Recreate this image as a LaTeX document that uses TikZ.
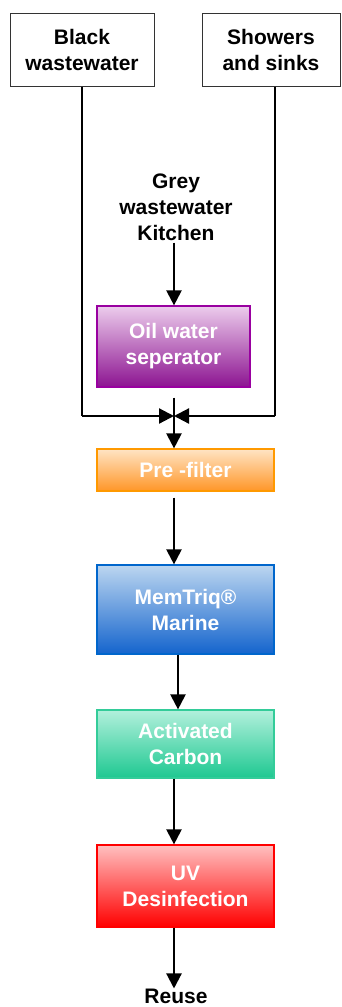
\documentclass[tikz,border=0pt]{standalone}
\usepackage{fontspec}
\setmainfont{Liberation Sans}
\usetikzlibrary{arrows.meta}
\begin{document}
\begin{tikzpicture}[x=1pt,y=-1pt,
  txt/.style={font=\fontsize{21}{26}\selectfont\bfseries,align=center,inner sep=0pt},
  srcbox/.style={txt,draw=black!80,line width=1pt,fill=white,inner sep=0pt},
  procbox/.style={txt,text=white,line width=1.2pt,inner sep=0pt},
  flow/.style={line width=2.2pt,-{Triangle[length=15pt,width=15pt]}},
  pipe/.style={line width=2.2pt}]
\useasboundingbox (0,0) rectangle (341,1007);
\node[srcbox,minimum width=144,minimum height=73] (black) at (82,49.5) {Black\\wastewater};
\node[srcbox,minimum width=138,minimum height=73] (shower) at (271,49.5) {Showers\\and sinks};
\node[txt] (grey) at (176,207) {Grey\\wastewater\\Kitchen};
\node[procbox,draw={rgb,255:red,153;green,0;blue,160},top color={rgb,255:red,236;green,204;blue,236},bottom color={rgb,255:red,140;green,20;blue,145},minimum width=153,minimum height=81] (oil) at (173.5,346.5) {Oil water\\seperator};
\node[procbox,draw={rgb,255:red,255;green,153;blue,0},top color={rgb,255:red,255;green,228;blue,196},bottom color={rgb,255:red,255;green,150;blue,40},minimum width=177,minimum height=42] (pre) at (185.5,470) {Pre -filter};
\node[procbox,draw={rgb,255:red,0;green,102;blue,204},top color={rgb,255:red,188;green,214;blue,240},bottom color={rgb,255:red,20;green,100;blue,205},minimum width=177,minimum height=89] (mem) at (185.5,609.5) {MemTriq®\\Marine};
\node[procbox,draw={rgb,255:red,51;green,204;blue,153},top color={rgb,255:red,178;green,240;blue,220},bottom color={rgb,255:red,30;green,200;blue,145},minimum width=177,minimum height=68] (ac) at (185.5,744) {Activated\\Carbon};
\node[procbox,draw={rgb,255:red,255;green,0;blue,0},top color={rgb,255:red,255;green,192;blue,192},bottom color={rgb,255:red,255;green,0;blue,0},minimum width=177,minimum height=82] (uv) at (185.5,886) {UV\\Desinfection};
\node[txt] (reuse) at (176,996) {Reuse};
\coordinate (junc) at (174,416);
\coordinate (lcorner) at (82,416);
\coordinate (rcorner) at (275,416);
\draw[pipe] (black.south) -- (lcorner);
\draw[flow] (lcorner) -- (junc);
\draw[pipe] (shower.south -| rcorner) -- (rcorner);
\draw[flow] (rcorner) -- (junc);
\draw[flow] (grey.south -| 174,0) ++(0,2) -- (oil.north -| 174,0);
\draw[flow] ([yshift=-10pt]oil.south -| 174,0) -- (pre.north -| 174,0);
\draw[flow] (pre.south -| 174,0) ++(0,6) -- (mem.north -| 174,0);
\draw[flow] (mem.south -| 178,0) -- (ac.north -| 178,0);
\draw[flow] (ac.south -| 174,0) -- (uv.north -| 174,0);
\draw[flow] (uv.south -| 174,0) -- (reuse.north -| 174,0);
\end{tikzpicture}
\end{document}
